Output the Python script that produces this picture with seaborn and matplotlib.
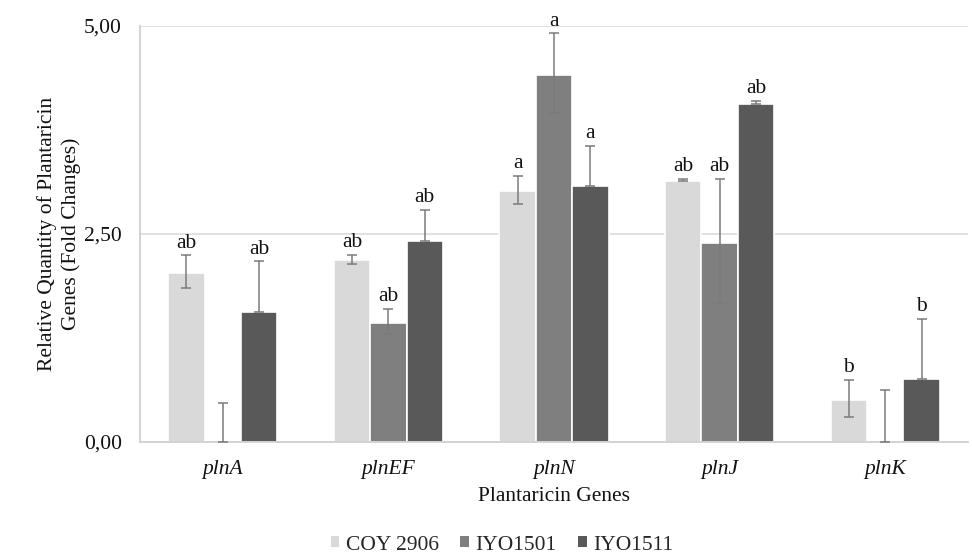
import numpy as np
import pandas as pd
import seaborn as sns
import matplotlib
matplotlib.use("Agg")
import matplotlib.pyplot as plt
from matplotlib.ticker import FuncFormatter, FixedLocator
from matplotlib.container import BarContainer

genes = ["plnA", "plnEF", "plnN", "plnJ", "plnK"]
strains = ["COY 2906", "IYO1501", "IYO1511"]

coy_vals = [2.03, 2.18, 3.01, 3.14, 0.50]
iyo1501_vals = [0.0, 1.43, 4.41, 2.39, 0.0]
iyo1511_vals = [1.56, 2.42, 3.08, 4.06, 0.75]

coy_err_lo = [0.18, 0.04, 0.15, 0.0, 0.20]
coy_err_hi = [0.21, 0.07, 0.19, 0.02, 0.24]
iyo1501_err_lo = [0.0, 0.13, 0.46, 0.72, 0.0]
iyo1501_err_hi = [0.46, 0.17, 0.50, 0.77, 0.62]
iyo1511_err_lo = [0.0, 0.0, 0.0, 0.0, 0.0]
iyo1511_err_hi = [0.61, 0.37, 0.48, 0.04, 0.73]

coy_letters = ["ab", "ab", "a", "ab", "b"]
iyo1501_letters = ["", "ab", "a", "ab", ""]
iyo1511_letters = ["ab", "ab", "a", "ab", "b"]
colors = ["#d9d9d9", "#7f7f7f", "#595959"]

df = pd.DataFrame({
    "gene": genes * 3,
    "strain": [s for s in strains for _ in genes],
    "value": coy_vals + iyo1501_vals + iyo1511_vals,
})

sns.set_theme(style="white")
plt.rcParams["font.family"] = ["Liberation Serif", "DejaVu Serif"]
FS = 15.5

fig = plt.figure(figsize=(9.72, 5.56), dpi=100)
ax = fig.add_axes([140 / 972, 1 - 441.7 / 556, (968 - 140) / 972, (441.7 - 26) / 556])

sns.barplot(data=df, x="gene", y="value", hue="strain", order=genes, hue_order=strains,
            palette=colors, width=0.66, errorbar=None, edgecolor="white", linewidth=1.2,
            saturation=1, ax=ax, legend=True)

errs_lo = [coy_err_lo, iyo1501_err_lo, iyo1511_err_lo]
errs_hi = [coy_err_hi, iyo1501_err_hi, iyo1511_err_hi]
vals = [coy_vals, iyo1501_vals, iyo1511_vals]
letters = [coy_letters, iyo1501_letters, iyo1511_letters]

bar_conts = [c for c in ax.containers if isinstance(c, BarContainer)]
for k, cont in enumerate(bar_conts):
    for i, bar in enumerate(cont.patches):
        xc = bar.get_x() + bar.get_width() / 2
        v = vals[k][i]
        lo, hi = errs_lo[k][i], errs_hi[k][i]
        ax.errorbar(xc, v, yerr=[[lo], [hi]], fmt="none", ecolor="#7a7a7a",
                    elinewidth=1.1, capsize=3.5, capthick=1.1, zorder=3, clip_on=False)
        if letters[k][i]:
            ax.annotate(letters[k][i], (xc, v + hi), xytext=(0, 2), textcoords="offset points",
                        ha="center", va="bottom", fontsize=FS, color="#111111")

ax.set_ylim(0, 5)
ax.set_xlim(-0.5, 4.5)
ax.yaxis.set_major_locator(FixedLocator([0, 2.5, 5]))
ax.yaxis.set_major_formatter(FuncFormatter(lambda v, p: f"{v:.2f}".replace(".", ",")))
ax.yaxis.grid(True, color="#d9d9d9", linewidth=1.1)
ax.set_axisbelow(True)

for s in ["top", "right"]:
    ax.spines[s].set_visible(False)
for s in ["left", "bottom"]:
    ax.spines[s].set_color("#d0d0d0")
    ax.spines[s].set_linewidth(1.3)

ax.tick_params(axis="y", length=0, labelsize=FS, pad=13, labelcolor="#111111")
ax.tick_params(axis="x", which="major", length=0, labelsize=FS, pad=13, labelcolor="#111111")
ax.set_xticks(np.arange(-0.5, 5, 1), minor=True)
ax.tick_params(axis="x", which="minor", length=6, color="#d0d0d0", width=1.3)
for lab in ax.get_xticklabels():
    lab.set_fontstyle("italic")

ax.set_xlabel("Plantaricin Genes", fontsize=FS, color="#111111", labelpad=6)
ax.set_ylabel("Relative Quantity of Plantaricin\nGenes (Fold Changes)", fontsize=FS,
              color="#111111", labelpad=2, linespacing=1.3)

handles, labels_ = ax.get_legend_handles_labels()
ax.get_legend().remove()
for h in handles:
    h.set_edgecolor("none")
fig.legend(handles, labels_, loc="center", bbox_to_anchor=(502 / 972, 1 - 545 / 556), ncol=3,
           frameon=False, fontsize=FS, handlelength=0.4, handleheight=0.4,
           handletextpad=0.3, columnspacing=1.0)

fig.savefig("out.png", dpi=100)
